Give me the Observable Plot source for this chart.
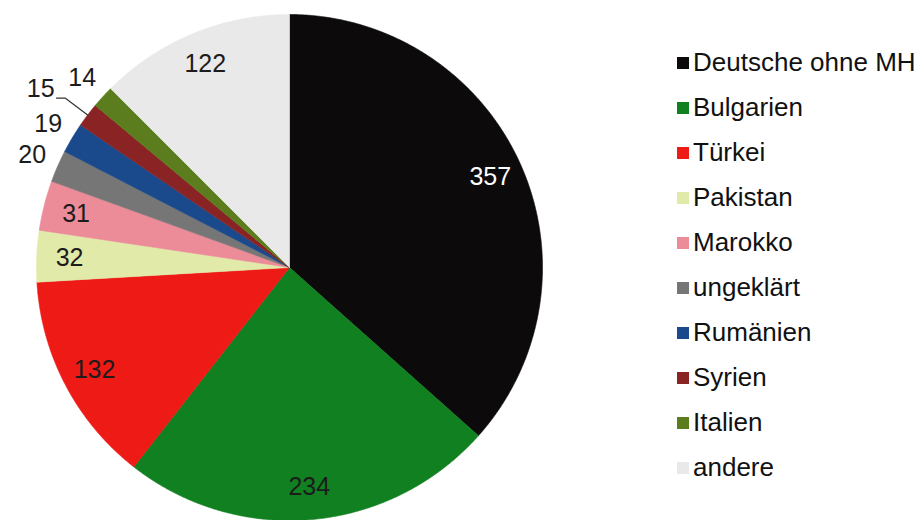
<!DOCTYPE html>
<html><head><meta charset="utf-8">
<script src="https://cdn.jsdelivr.net/npm/d3@7"></script>
<script src="https://cdn.jsdelivr.net/npm/@observablehq/plot@0.6"></script>
<style>
body{margin:0;background:#fff;font-family:"Liberation Sans",Arial,sans-serif;}
#wrap{position:relative;width:923px;height:520px;overflow:hidden;background:#fff}
#chart{position:absolute;left:0;top:0}
#legend{position:absolute;left:677px;top:40px}
.item{display:flex;align-items:center;height:45px;font-size:26px;color:#111;white-space:nowrap}
.sw{width:12px;height:12px;margin-right:4px;flex:none}
</style></head><body>
<div id="wrap"><div id="chart"></div><div id="legend"></div></div>
<script>
const categories = ["Deutsche ohne MH","Bulgarien","Türkei","Pakistan","Marokko","ungeklärt","Rumänien","Syrien","Italien","andere"];
const values = [357,234,132,32,31,20,19,15,14,122];
const colors = ["#0c0a0b","#118020","#ee1a16","#e2eaaa","#ec8c98","#767676","#1a4a8c","#8a2424","#5b7d1e","#e9e9e9"];

const data = categories.map((name,i)=>({name, value: values[i]}));
const arcs = d3.pie().sort(null).value(d=>d.value).startAngle(0).endAngle(2*Math.PI)(data);

// slice outlines (unit circle, angles clockwise from 12 o'clock)
const slicePts = [];
const step = Math.PI/720;
for (const a of arcs) {
  slicePts.push({name:a.data.name, x:0, y:0});
  for (let t=a.startAngle; t<a.endAngle; t+=step) slicePts.push({name:a.data.name, x:Math.sin(t), y:Math.cos(t)});
  slicePts.push({name:a.data.name, x:Math.sin(a.endAngle), y:Math.cos(a.endAngle)});
  slicePts.push({name:a.data.name, x:0, y:0});
}

const leaderNames = ["Syrien"];
const labels = arcs.map(a=>{
  const m=(a.startAngle+a.endAngle)/2;
  const inside = a.data.value>=25;
  const leader = leaderNames.includes(a.data.name);
  const r = inside?0.87:1.11;
  return {name:a.data.name, text:String(a.data.value), m, inside, leader,
          x: leader? Math.sin(m)*1.11-0.035 : Math.sin(m)*r,
          y: leader? Math.cos(m)*1.11 : Math.cos(m)*r};
});
const leaderPts = labels.filter(d=>d.leader).flatMap(d=>[
  {name:d.name,x:Math.sin(d.m)*1.0,y:Math.cos(d.m)*1.0},
  {name:d.name,x:Math.sin(d.m)*1.11,y:Math.cos(d.m)*1.11},
  {name:d.name,x:Math.sin(d.m)*1.11-0.035,y:Math.cos(d.m)*1.11}
]);

const cx=289, cy=267, R=253;
const chart = Plot.plot({
  width:923, height:520, margin:0,
  x:{domain:[-1,1], range:[cx-R, cx+R], axis:null},
  y:{domain:[-1,1], range:[cy+R, cy-R], axis:null},
  color:{domain:categories, range:colors},
  style:{fontFamily:'"Liberation Sans",Arial,sans-serif', background:"transparent", overflow:"visible"},
  marks:[
    Plot.line(slicePts,{x:"x",y:"y",z:"name",fill:"name",stroke:"name",strokeWidth:0.6,curve:"linear"}),
    Plot.line(leaderPts,{x:"x",y:"y",z:"name",stroke:"#333",strokeWidth:1.2}),
    Plot.text(labels.filter(d=>d.name==="Deutsche ohne MH"),{x:"x",y:"y",text:"text",fill:"white",fontSize:25}),
    Plot.text(labels.filter(d=>d.name!=="Deutsche ohne MH" && !d.leader),{x:"x",y:"y",text:"text",fill:"#1c1c1c",fontSize:25}),
    Plot.text(labels.filter(d=>d.leader),{x:"x",y:"y",text:"text",fill:"#1c1c1c",fontSize:25,textAnchor:"end",dx:-2,dy:-9})
  ]
});
document.getElementById("chart").appendChild(chart);

const leg = document.getElementById("legend");
categories.forEach((c,i)=>{
  const it=document.createElement("div"); it.className="item";
  const sw=document.createElement("span"); sw.className="sw"; sw.style.background=colors[i];
  const tx=document.createElement("span"); tx.textContent=c;
  it.appendChild(sw); it.appendChild(tx); leg.appendChild(it);
});
</script>
</body></html>
